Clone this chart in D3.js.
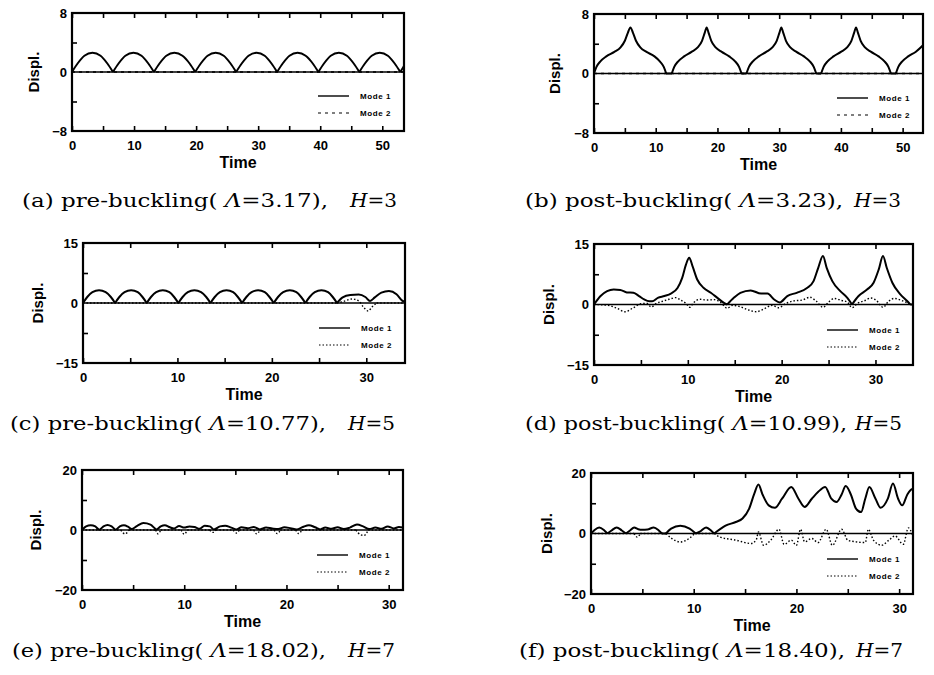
<!DOCTYPE html>
<html>
<head>
<meta charset="utf-8">
<script src="https://cdn.jsdelivr.net/npm/d3@7"></script>
<style>
  body { margin: 0; background: #fff; }
  svg { display: block; }
</style>
</head>
<body>
<div id="chart"></div>
<script>
'use strict';

// ---- data: [time, displacement] ----

// (a) pre-buckling, H=3
const aMode1 = [
  [0, 0], [0.9, 1.15], [2.0, 2.2], [3.3, 2.6], [4.6, 2.2], [5.7, 1.15], [6.6, 0],
  [7.5, 1.15], [8.6, 2.2], [9.9, 2.6], [11.2, 2.2], [12.3, 1.15], [13.2, 0],
  [14.1, 1.15], [15.2, 2.2], [16.5, 2.6], [17.8, 2.2], [18.95, 1.15], [19.85, 0],
  [20.75, 1.15], [21.85, 2.2], [23.15, 2.6], [24.45, 2.2], [25.55, 1.15], [26.45, 0],
  [27.35, 1.15], [28.45, 2.2], [29.75, 2.6], [31.05, 2.2], [32.15, 1.15], [33.05, 0],
  [33.95, 1.15], [35.05, 2.2], [36.35, 2.6], [37.65, 2.2], [38.8, 1.15], [39.7, 0],
  [40.6, 1.15], [41.7, 2.2], [43.0, 2.6], [44.3, 2.2], [45.4, 1.15], [46.3, 0],
  [47.2, 1.15], [48.3, 2.2], [49.6, 2.6], [50.9, 2.2], [52.0, 1.15], [52.9, 0],
  [53.5, 0.8]
];
const aMode2 = [[0, 0], [53.5, 0]];

// (b) post-buckling, H=3
const bMode1 = [
  [0, 0], [0.4, 0.9], [1.0, 1.6], [2.0, 2.3], [3.3, 2.9], [4.3, 3.5], [5.0, 4.4], [5.5, 5.5], [5.9, 6.2],
  [6.3, 5.5], [6.8, 4.4], [7.5, 3.5], [8.5, 2.9], [9.8, 2.3], [10.7, 1.6], [11.3, 0.9], [11.7, 0],
  [12.6, 0],
  [13.0, 0.9], [13.6, 1.6], [14.6, 2.3], [15.8, 2.9], [16.8, 3.5], [17.5, 4.4], [17.95, 5.5], [18.25, 6.2],
  [18.55, 5.5], [19.0, 4.4], [19.7, 3.5], [20.7, 2.9], [21.9, 2.3], [22.9, 1.6], [23.5, 0.9], [23.9, 0],
  [24.7, 0],
  [25.1, 0.9], [25.7, 1.6], [26.7, 2.3], [27.9, 2.9], [28.9, 3.5], [29.6, 4.4], [30.05, 5.5], [30.35, 6.2],
  [30.65, 5.5], [31.1, 4.4], [31.8, 3.5], [32.8, 2.9], [34.0, 2.3], [35.0, 1.6], [35.6, 0.9], [36.0, 0],
  [36.8, 0],
  [37.2, 0.9], [37.8, 1.6], [38.8, 2.3], [40.0, 2.9], [41.0, 3.5], [41.7, 4.4], [42.15, 5.5], [42.45, 6.2],
  [42.75, 5.5], [43.2, 4.4], [43.9, 3.5], [44.9, 2.9], [46.1, 2.3], [47.1, 1.6], [47.7, 0.9], [48.1, 0],
  [48.9, 0],
  [49.3, 0.9], [49.9, 1.6], [50.9, 2.3], [52.1, 2.9], [53.3, 3.8]
];
const bMode2 = [[0, 0], [53.3, 0]];

// (c) pre-buckling, H=5
const cMode1 = [
  [0, 0], [0.45, 1.5], [1.0, 2.7], [1.7, 3.2], [2.4, 2.7], [2.95, 1.5], [3.4, 0],
  [3.85, 1.5], [4.4, 2.7], [5.1, 3.2], [5.8, 2.7], [6.3, 1.5], [6.75, 0],
  [7.2, 1.5], [7.75, 2.7], [8.45, 3.2], [9.15, 2.7], [9.65, 1.5], [10.1, 0],
  [10.55, 1.5], [11.1, 2.7], [11.8, 3.2], [12.5, 2.7], [13.05, 1.5], [13.5, 0],
  [13.95, 1.5], [14.5, 2.7], [15.2, 3.2], [15.9, 2.7], [16.4, 1.5], [16.85, 0],
  [17.3, 1.5], [17.85, 2.7], [18.55, 3.2], [19.25, 2.7], [19.75, 1.5], [20.2, 0],
  [20.65, 1.5], [21.2, 2.7], [21.9, 3.2], [22.6, 2.7], [23.1, 1.5], [23.55, 0],
  [24.0, 1.5], [24.55, 2.7], [25.25, 3.2], [25.95, 2.7], [26.45, 1.5], [26.9, 0],
  [27.5, 1.4], [28.3, 2.0], [29.2, 2.1], [29.9, 1.5], [30.4, 0.5], [30.9, 1.4],
  [31.6, 2.6], [32.4, 3.0], [33.2, 2.2], [33.8, 0.6], [34.1, 0.2]
];
const cMode2 = [
  [0, 0], [26.9, 0], [27.6, 0.4], [28.5, 1.0], [29.2, 0.5], [29.7, -1.0], [30.2, -2.0],
  [30.6, -1.0], [31.1, 0], [34.1, 0]
];

// (d) post-buckling, H=5
const dMode1 = [
  [0, 0], [0.7, 2.1], [1.4, 3.3], [2.1, 3.7], [2.8, 3.6], [3.5, 3.0], [4.2, 2.9], [4.8, 2.1],
  [5.35, 1.25], [5.9, 0.8], [6.2, 0.8], [6.8, 1.65], [7.5, 2.1], [8.2, 2.7], [8.9, 4.1], [9.4, 6.6],
  [9.8, 9.9], [10.15, 11.6], [10.5, 9.5], [11.0, 6.2], [11.7, 4.1], [12.45, 2.9], [13.15, 1.65],
  [13.85, 0.4], [14.2, 0], [14.9, 1.65], [15.6, 2.9], [16.7, 3.5], [17.8, 2.7], [18.5, 2.7],
  [19.2, 1.25], [19.8, 0.5], [20.6, 2.1], [21.6, 2.9], [22.7, 4.1], [23.4, 5.8], [23.9, 9.1],
  [24.4, 12.0], [24.8, 9.1], [25.4, 5.8], [26.25, 3.3], [27.0, 1.65], [27.5, 0], [28.2, 2.1],
  [29.1, 3.7], [29.8, 5.4], [30.35, 8.7], [30.8, 12.0], [31.2, 9.1], [31.8, 5.4], [32.65, 2.5],
  [33.4, 0.8], [33.7, 0], [34.0, 0]
];
const dMode2 = [
  [0, 0], [1.5, -0.2], [2.5, -1.0], [3.3, -1.8], [4.2, -0.8], [5.0, 0.2], [5.6, 0.3], [6.1, -0.6],
  [6.6, 0.2], [7.3, 0.8], [8.0, 1.3], [8.7, 1.7], [9.3, 1.0], [9.8, 0.3], [10.2, -0.7], [10.6, 0.4],
  [11.3, 1.3], [12.0, 1.1], [12.8, 1.2], [13.5, 0.5], [14.2, -0.9], [14.8, -0.2], [15.5, -0.5],
  [16.4, -1.3], [17.3, -1.8], [18.2, -1.0], [19.0, -0.2], [19.7, -0.8], [20.4, 0.2], [21.3, 0.9],
  [22.2, 1.1], [23.0, 1.8], [23.7, 0.8], [24.4, -0.7], [25.0, 0.6], [25.6, 1.5], [26.4, 1.0],
  [27.0, 0.6], [27.5, -0.8], [28.1, 0.3], [28.8, 0.9], [29.5, 1.6], [30.1, 1.0], [30.8, -0.7],
  [31.4, 0.8], [32.0, 1.5], [32.8, 1.0], [33.5, 0.3], [34.0, 0]
];

// (e) pre-buckling, H=7
const eMode1 = [
  [0, 0], [0.4, 1.2], [0.85, 1.6], [1.3, 1.2], [1.7, 0.1], [2.1, 1.2], [2.5, 1.7], [2.9, 1.2],
  [3.3, 0.1], [3.7, 1.2], [4.1, 1.6], [4.5, 1.1], [4.85, 0.3], [5.4, 1.4], [6.0, 2.3], [6.7, 1.8],
  [7.3, 0.2], [7.7, 1.2], [8.1, 1.6], [8.6, 0.9], [9.0, 0.5], [9.5, 1.3], [10.0, 0.8], [10.5, 1.2],
  [11.0, 1.0], [11.5, 0.4], [12.0, 1.4], [12.5, 1.2], [12.9, 0.2], [13.5, 1.2], [14.0, 1.4],
  [14.6, 0.8], [15.1, 0.2], [15.6, 0.9], [16.2, 0.6], [16.8, 1.0], [17.4, 0.2], [18.0, 0.8],
  [18.6, 0.5], [19.2, 0.3], [19.8, 0.9], [20.4, 0.6], [21.0, 0.2], [21.6, 1.0], [22.2, 1.6],
  [22.8, 0.9], [23.3, 0.2], [23.8, 0.8], [24.4, 0.4], [25.0, 0.9], [25.6, 0.3], [26.2, 0.8],
  [26.9, 1.8], [27.5, 1.2], [28.1, 0.3], [28.7, 0.8], [29.3, 0.4], [29.9, 1.2], [30.5, 0.5],
  [31.0, 1.0], [31.4, 0.8]
];
const eMode2 = [
  [0, 0], [3.8, 0], [4.2, -1.3], [4.6, 0], [7.2, 0], [7.45, -1.3], [7.7, 0], [9.7, 0], [10.0, -1.4],
  [10.3, 0], [12.5, 0], [12.8, -0.8], [13.1, 0], [14.8, 0], [15.1, -1.0], [15.4, 0], [16.8, 0],
  [17.1, -1.3], [17.4, 0], [18.8, 0], [19.1, -1.2], [19.4, 0], [20.9, 0], [21.2, -1.2], [21.5, 0],
  [26.8, 0], [27.2, -1.5], [27.6, -1.8], [28.0, 0], [31.4, 0]
];

// (f) post-buckling, H=7
const fMode1 = [
  [0, 0], [0.3, 1.0], [0.8, 2.0], [1.3, 1.0], [1.6, 0], [2.0, 1.0], [2.5, 2.0], [3.0, 1.0], [3.4, 0],
  [3.8, 1.0], [4.2, 2.0], [4.6, 1.4], [5.0, 1.2], [5.5, 1.3], [6.1, 2.0], [6.6, 1.0], [6.9, 0],
  [7.3, 0], [7.8, 1.6], [8.7, 2.6], [9.6, 1.6], [10.2, 0], [10.6, 0.6], [11.2, 2.0], [11.8, 0.6],
  [12.0, 0], [13.1, 2.6], [14.1, 3.8], [14.75, 4.95], [15.4, 8.25], [15.9, 13.2], [16.3, 16.2],
  [16.7, 12.9], [17.3, 9.3], [17.9, 8.5], [18.6, 11.5], [19.5, 15.4], [20.2, 11.5], [20.8, 8.8],
  [21.5, 11.5], [22.1, 13.7], [22.8, 15.4], [23.4, 11.5], [23.9, 10.4], [24.4, 12.9], [24.8, 15.7],
  [25.3, 12.9], [25.8, 8.25], [26.3, 7.1], [26.7, 11.5], [27.1, 15.4], [27.7, 11.5], [28.2, 8.5],
  [28.9, 11.5], [29.4, 16.5], [29.9, 11.5], [30.3, 9.3], [30.8, 12.9], [31.1, 14.3], [31.35, 14.8]
];
const fMode2 = [
  [0, 0], [4.2, 0], [4.5, -1.2], [4.8, 0], [7.3, 0], [7.8, -1.5], [8.7, -2.8], [9.6, -1.5], [10.1, 0],
  [12.0, 0], [12.5, -1.1], [14.1, -2.2], [15.6, -3.3], [16.1, -2.0], [16.3, 0.5], [16.8, -3.9],
  [17.5, -2.2], [18.3, 1.4], [18.8, -3.6], [19.5, -2.2], [20.0, -3.9], [20.4, 1.4], [20.8, -2.75],
  [21.5, -1.65], [22.1, -3.0], [22.9, 1.4], [23.5, -3.9], [24.4, 1.4], [25.0, -2.2], [25.8, -2.75],
  [26.7, -3.0], [27.0, 1.4], [27.5, -2.2], [28.3, -3.9], [29.0, -2.2], [29.6, -0.8], [30.4, -3.6],
  [30.9, 1.85], [31.35, -1.0]
];

// ---- axes ----
const xTicksLong = [0, 10, 20, 30, 40, 50];
const xTicksShort = [0, 10, 20, 30];
const xMinorLong = [5, 15, 25, 35, 45];
const xMinorShort = [5, 15, 25];
const yLimits = [8, 15, 20];
const legendNames = ['Mode 1', 'Mode 2'];

// ---- captions ----
const captionLabels = ['(a)', '(b)', '(c)', '(d)', '(e)', '(f)'];
const captionKinds = ['pre-buckling', 'post-buckling', 'pre-buckling', 'post-buckling', 'pre-buckling', 'post-buckling'];
const captionLambda = ['3.17', '3.23', '10.77', '10.99', '18.02', '18.40'];
const captionH = ['3', '3', '5', '5', '7', '7'];

// ---- layout ----
const panels = [
  { m1: aMode1, m2: aMode2, xMax: 53.5, yMax: yLimits[0], xt: xTicksLong, xm: xMinorLong, dash: '3,4',
    left: 72, right: 404, top: 13, bottom: 131, ylab: 39, capX: 22, capLen: 306, hX: 350, capY: 207 },
  { m1: bMode1, m2: bMode2, xMax: 53.3, yMax: yLimits[0], xt: xTicksLong, xm: xMinorLong, dash: '3,4',
    left: 594, right: 923, top: 14, bottom: 133, ylab: 40, capX: 525, capLen: 318, hX: 854, capY: 207 },
  { m1: cMode1, m2: cMode2, xMax: 34.1, yMax: yLimits[1], xt: xTicksShort, xm: xMinorShort, dash: '1.5,2',
    left: 83, right: 405, top: 243, bottom: 363, ylab: 46, capX: 10, capLen: 316, hX: 348, capY: 430 },
  { m1: dMode1, m2: dMode2, xMax: 34.0, yMax: yLimits[1], xt: xTicksShort, xm: xMinorShort, dash: '1.5,2',
    left: 594, right: 913, top: 244, bottom: 365, ylab: 46, capX: 525, capLen: 322, hX: 855, capY: 430 },
  { m1: eMode1, m2: eMode2, xMax: 31.4, yMax: yLimits[2], xt: xTicksShort, xm: xMinorShort, dash: '1.5,2',
    left: 82, right: 403, top: 470, bottom: 590, ylab: 47, capX: 12, capLen: 314, hX: 348, capY: 657 },
  { m1: fMode1, m2: fMode2, xMax: 31.35, yMax: yLimits[2], xt: xTicksShort, xm: xMinorShort, dash: '1.5,2',
    left: 591, right: 913, top: 473, bottom: 594, ylab: 45, capX: 519, capLen: 326, hX: 856, capY: 657 }
];

const width = 934;
const height = 675;
const sansFont = '"Liberation Sans", Arial, Helvetica, sans-serif';
const serifFont = '"DejaVu Serif", "Liberation Serif", serif';

const svg = d3.select('#chart')
  .append('svg')
  .attr('width', width)
  .attr('height', height);

// break a series at the points where it touches zero, so cusps stay sharp
function pieces(pts) {
  const out = [];
  let cur = [pts[0]];
  for (let i = 1; i < pts.length; i++) {
    cur.push(pts[i]);
    if (pts[i][1] === 0 && i < pts.length - 1) {
      out.push(cur);
      cur = [pts[i]];
    }
  }
  if (cur.length > 1) out.push(cur);
  return out;
}

panels.forEach((p, i) => {
  const x = d3.scaleLinear().domain([0, p.xMax]).range([p.left, p.right]);
  const y = d3.scaleLinear().domain([-p.yMax, p.yMax]).range([p.bottom, p.top]);
  const g = svg.append('g');

  g.append('clipPath').attr('id', 'clip' + i)
    .append('rect')
    .attr('x', p.left).attr('y', p.top)
    .attr('width', p.right - p.left).attr('height', p.bottom - p.top);

  // ticks, pointing inward
  const bottomAxis = d3.axisBottom(x).tickValues(p.xt).tickSizeInner(-5).tickSizeOuter(0)
    .tickPadding(10).tickFormat(d3.format('d'));
  const bottomMinor = d3.axisBottom(x).tickValues(p.xm).tickSizeInner(-5).tickSizeOuter(0).tickFormat('');
  const topAxis = d3.axisTop(x).tickValues(p.xt.concat(p.xm)).tickSizeInner(-5).tickSizeOuter(0).tickFormat('');
  const leftAxis = d3.axisLeft(y).tickValues([-p.yMax, 0, p.yMax]).tickSizeInner(0).tickSizeOuter(0)
    .tickPadding(5).tickFormat(d3.format('d'));
  const leftMinor = d3.axisLeft(y).tickValues([-p.yMax / 2, p.yMax / 2]).tickSizeInner(-5).tickSizeOuter(0).tickFormat('');

  const axes = [
    [bottomAxis, `translate(0,${p.bottom})`],
    [bottomMinor, `translate(0,${p.bottom})`],
    [topAxis, `translate(0,${p.top})`],
    [leftAxis, `translate(${p.left},0)`],
    [leftMinor, `translate(${p.left},0)`]
  ];
  axes.forEach(([ax, tr]) => {
    const a = g.append('g').attr('transform', tr).call(ax);
    a.select('.domain').remove();
    a.selectAll('line').attr('stroke', '#000').attr('stroke-width', 1.6);
    a.selectAll('text')
      .attr('fill', '#000')
      .style('font-family', sansFont)
      .style('font-weight', 'bold')
      .style('font-size', '13px');
  });

  // zero line
  g.append('line')
    .attr('x1', p.left).attr('x2', p.right)
    .attr('y1', y(0)).attr('y2', y(0))
    .attr('stroke', '#000').attr('stroke-width', 1.6);

  // curves
  const line = d3.line()
    .x(d => x(d[0]))
    .y(d => y(d[1]))
    .curve(d3.curveMonotoneX);
  const plot = g.append('g').attr('clip-path', `url(#clip${i})`);
  plot.selectAll('path.m2')
    .data(pieces(p.m2))
    .enter()
    .append('path')
    .attr('class', 'm2')
    .attr('d', line)
    .attr('fill', 'none')
    .attr('stroke', '#000')
    .attr('stroke-width', 1.4)
    .attr('stroke-dasharray', p.dash);
  plot.selectAll('path.m1')
    .data(pieces(p.m1))
    .enter()
    .append('path')
    .attr('class', 'm1')
    .attr('d', line)
    .attr('fill', 'none')
    .attr('stroke', '#000')
    .attr('stroke-width', 2);

  // frame
  g.append('rect')
    .attr('x', p.left).attr('y', p.top)
    .attr('width', p.right - p.left).attr('height', p.bottom - p.top)
    .attr('fill', 'none').attr('stroke', '#000').attr('stroke-width', 2.2);

  // legend
  legendNames.forEach((name, k) => {
    const ly = p.bottom - 35 + k * 17;
    g.append('line')
      .attr('x1', p.right - 86).attr('x2', p.right - 55)
      .attr('y1', ly).attr('y2', ly)
      .attr('stroke', '#000')
      .attr('stroke-width', k === 0 ? 1.4 : 1.2)
      .attr('stroke-dasharray', k === 0 ? null : p.dash);
    g.append('text')
      .attr('x', p.right - 44).attr('y', ly + 3)
      .style('font-family', sansFont)
      .style('font-weight', 'bold')
      .style('font-size', '8px')
      .style('letter-spacing', '0.6px')
      .text(name);
  });

  // axis titles
  g.append('text')
    .attr('x', (p.left + p.right) / 2)
    .attr('y', p.bottom + 37)
    .attr('text-anchor', 'middle')
    .style('font-family', sansFont)
    .style('font-weight', 'bold')
    .style('font-size', '16px')
    .text('Time');
  g.append('text')
    .attr('transform', `translate(${p.left - p.ylab},${(p.top + p.bottom) / 2}) rotate(-90)`)
    .attr('text-anchor', 'middle')
    .attr('dominant-baseline', 'central')
    .style('font-family', sansFont)
    .style('font-weight', 'bold')
    .style('font-size', '15px')
    .text('Displ.');

  // caption
  const cap = svg.append('text')
    .attr('x', p.capX).attr('y', p.capY)
    .attr('textLength', p.capLen)
    .attr('lengthAdjust', 'spacingAndGlyphs')
    .style('font-family', serifFont)
    .style('font-size', '19px');
  cap.append('tspan').text(`${captionLabels[i]} ${captionKinds[i]}( `);
  cap.append('tspan').style('font-style', 'italic').text('\u039B');
  cap.append('tspan').text(`=${captionLambda[i]}),`);
  const hcap = svg.append('text')
    .attr('x', p.hX).attr('y', p.capY)
    .attr('textLength', 47)
    .attr('lengthAdjust', 'spacingAndGlyphs')
    .style('font-family', serifFont)
    .style('font-size', '19px');
  hcap.append('tspan').style('font-style', 'italic').text('H');
  hcap.append('tspan').text(`=${captionH[i]}`);
});
</script>
</body>
</html>
